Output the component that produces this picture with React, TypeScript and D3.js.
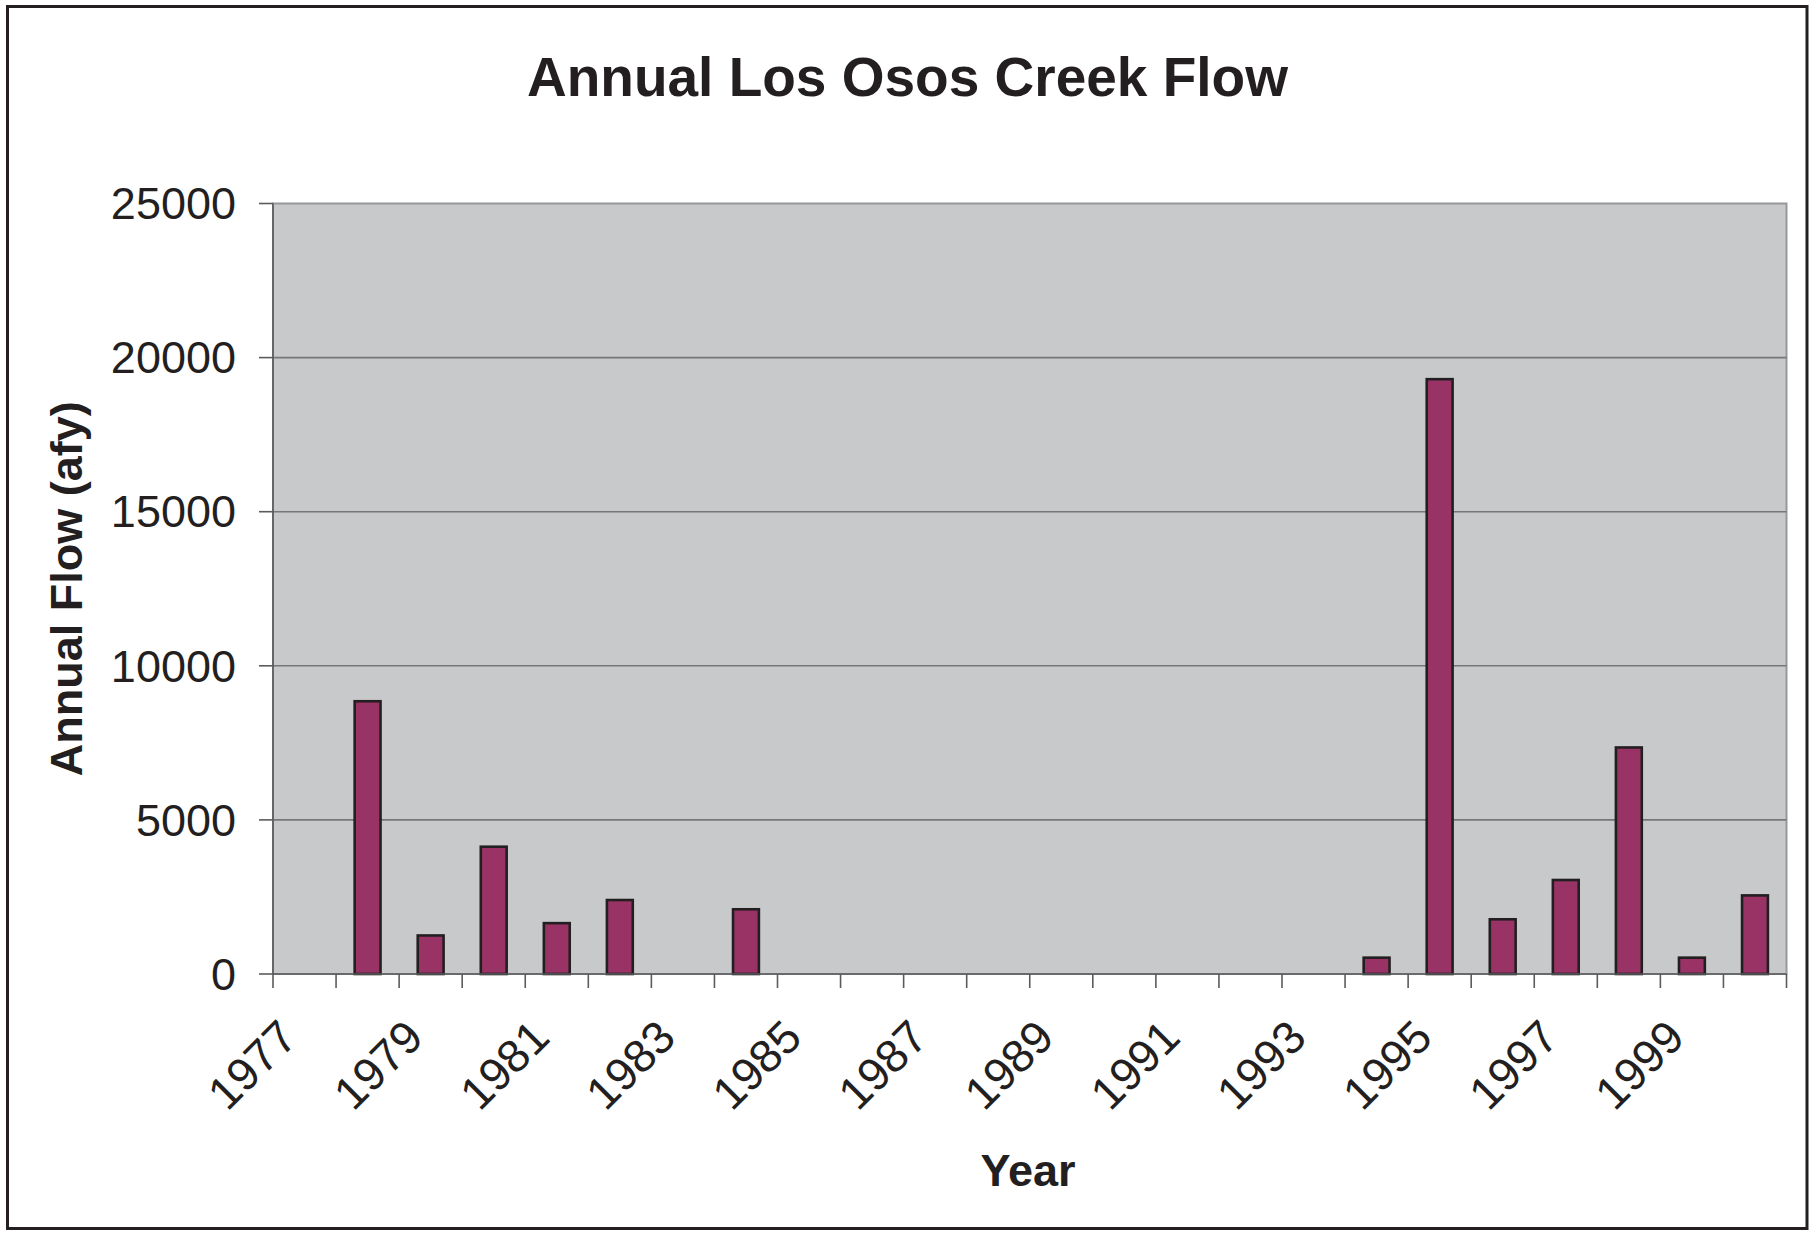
import React from "react";
import * as d3 from "d3";

const years: string[] = [
  "1977", "1978", "1979", "1980", "1981", "1982", "1983", "1984",
  "1985", "1986", "1987", "1988", "1989", "1990", "1991", "1992",
  "1993", "1994", "1995", "1996", "1997", "1998", "1999", "2000",
];
const flow: number[] = [
  0, 8850, 1250, 4130, 1650, 2400, 0, 2100,
  0, 0, 0, 0, 0, 0, 0, 0,
  0, 530, 19300, 1775, 3050, 7350, 530, 2550,
];
const yTicks: number[] = [0, 5000, 10000, 15000, 20000, 25000];
const xLabels: string[] = ["1977", "1979", "1981", "1983", "1985", "1987", "1989", "1991", "1993", "1995", "1997", "1999"];

const W = 1815;
const H = 1233;
const plot = { left: 273, right: 1786.5, top: 203.5, bottom: 974 };
const FONT = "'Liberation Sans', Arial, Helvetica, sans-serif";
const INK = "#231f20";

export default function App() {
  const x = d3
    .scaleBand<string>()
    .domain(years)
    .range([plot.left, plot.right])
    .paddingInner(0.59)
    .paddingOuter(0.295);
  const step = x.step();
  const y = d3.scaleLinear().domain([0, 25000]).range([plot.bottom, plot.top]);

  const boundaries = d3.range(years.length + 1).map((i) => plot.left + i * step);

  return (
    <svg
      width={W}
      height={H}
      style={{ position: "absolute", left: 0, top: 0, display: "block", background: "#fff" }}
      fontFamily={FONT}
    >
      <rect x={0} y={0} width={W} height={H} fill="#ffffff" />
      {/* outer border */}
      <rect x={7.5} y={6.5} width={1799.5} height={1222} fill="none" stroke={INK} strokeWidth={3} />

      {/* title */}
      <text x={907.5} y={96} textAnchor="middle" fontSize={55} fontWeight="bold" fill={INK}>
        Annual Los Osos Creek Flow
      </text>

      {/* plot area */}
      <rect
        x={plot.left}
        y={plot.top}
        width={plot.right - plot.left}
        height={plot.bottom - plot.top}
        fill="#c8c9cb"
        stroke="#97989b"
        strokeWidth={2}
      />

      {/* gridlines */}
      {yTicks
        .filter((t) => t > 0 && t < 25000)
        .map((t) => (
          <line key={"g" + t} x1={plot.left} x2={plot.right} y1={y(t)} y2={y(t)} stroke="#76777a" strokeWidth={1.6} />
        ))}

      {/* bars */}
      {years.map((yr, i) =>
        flow[i] > 0 ? (
          <rect
            key={"b" + yr}
            x={x(yr)}
            y={y(flow[i])}
            width={x.bandwidth()}
            height={plot.bottom - y(flow[i])}
            fill="#993366"
            stroke={INK}
            strokeWidth={2.6}
          />
        ) : null
      )}

      {/* y axis */}
      <line x1={plot.left} x2={plot.left} y1={plot.top} y2={plot.bottom} stroke="#5a5b5e" strokeWidth={1.6} />
      {yTicks.map((t) => (
        <g key={"yt" + t}>
          <line x1={plot.left - 14} x2={plot.left} y1={y(t)} y2={y(t)} stroke="#5a5b5e" strokeWidth={1.6} />
          <text x={236} y={y(t)} dy="0.35em" textAnchor="end" fontSize={45} fill={INK}>
            {t}
          </text>
        </g>
      ))}

      {/* x axis */}
      <line x1={plot.left} x2={plot.right} y1={plot.bottom} y2={plot.bottom} stroke="#5a5b5e" strokeWidth={1.6} />
      {boundaries.map((bx, i) => (
        <line key={"xt" + i} x1={bx} x2={bx} y1={plot.bottom} y2={plot.bottom + 14} stroke="#5a5b5e" strokeWidth={1.6} />
      ))}
      {xLabels.map((lab) => {
        const cx = (x(lab) as number) + x.bandwidth() / 2 - 5;
        const cy = 1040;
        return (
          <text
            key={"xl" + lab}
            x={cx}
            y={cy}
            textAnchor="end"
            fontSize={46}
            fill={INK}
            transform={`rotate(-45 ${cx} ${cy})`}
          >
            {lab}
          </text>
        );
      })}

      {/* axis titles */}
      <text x={1028} y={1186} textAnchor="middle" fontSize={45} fontWeight="bold" fill={INK}>
        Year
      </text>
      <text
        x={0}
        y={0}
        textAnchor="middle"
        fontSize={45}
        fontWeight="bold"
        fill={INK}
        transform={`translate(82 ${(plot.top + plot.bottom) / 2}) rotate(-90)`}
      >
        Annual Flow (afy)
      </text>
    </svg>
  );
}
